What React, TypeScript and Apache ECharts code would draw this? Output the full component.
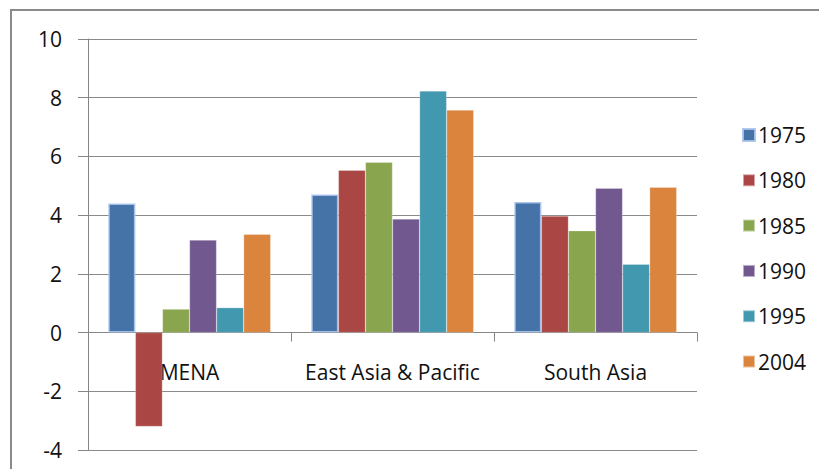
import React, { useEffect, useRef } from "react";
import * as echarts from "echarts";

const categories = ["MENA", "East Asia & Pacific", "South Asia"];
const years = ["1975", "1980", "1985", "1990", "1995", "2004"];
const s1975 = [4.4, 4.7, 4.45];
const s1980 = [-3.2, 5.53, 3.97];
const s1985 = [0.8, 5.8, 3.47];
const s1990 = [3.15, 3.87, 4.92];
const s1995 = [0.85, 8.23, 2.33];
const s2004 = [3.35, 7.58, 4.95];
const seriesValues = [s1975, s1980, s1985, s1990, s1995, s2004];
const colors = ["#4572A7", "#AA4643", "#89A54E", "#71588F", "#4198AF", "#DB843D"];

const FONT = "'Open Sans', 'Liberation Sans', sans-serif";

export default function App() {
  const ref = useRef<HTMLDivElement>(null);
  useEffect(() => {
    if (!ref.current) return;
    const chart = echarts.init(ref.current, undefined, { renderer: "svg" });
    chart.setOption({
      animation: false,
      backgroundColor: "#ffffff",
      color: colors,
      grid: { left: 88, right: 122, top: 39, bottom: 19, containLabel: false, outerBoundsMode: "none" },
      legend: {
        orient: "vertical",
        left: 737,
        top: 119,
        itemWidth: 12,
        itemHeight: 12,
        itemGap: 23.3,
        icon: "rect",
        textStyle: { fontFamily: FONT, fontSize: 21, color: "#111", lineHeight: 22, padding: [0, 0, 0, -2] },
        data: years,
      },
      xAxis: {
        type: "category",
        data: categories,
        boundaryGap: true,
        axisLine: { onZero: true, lineStyle: { color: "#868686", width: 1 } },
        axisTick: { show: true, length: 9, lineStyle: { color: "#868686" } },
        axisLabel: { interval: 0, margin: -89, fontFamily: FONT, fontSize: 21, color: "#111", lineHeight: 22 },
        splitLine: { show: false },
      },
      yAxis: {
        type: "value",
        min: -4,
        max: 10,
        interval: 2,
        axisLine: { show: true, lineStyle: { color: "#868686", width: 1 } },
        axisTick: { show: true, length: 10, lineStyle: { color: "#868686" } },
        axisLabel: { margin: 26, fontFamily: FONT, fontSize: 21, color: "#111" },
        splitLine: { show: true, lineStyle: { color: "#8a8a8a", width: 1 } },
      },
      series: years.map((y, i) => ({
        name: y,
        type: "bar",
        data: seriesValues[i],
        barGap: "0%",
        barCategoryGap: "20%",
        itemStyle:
          i === 0
            ? { color: colors[i], borderColor: "rgba(170,195,235,0.9)", borderWidth: 1.5 }
            : { color: colors[i], borderColor: "rgba(255,255,255,0.5)", borderWidth: 0.5 },
      })),
      graphic: [
        {
          type: "rect",
          shape: { x: 11, y: 10, width: 1000, height: 1000 },
          style: { fill: "none", stroke: "#8a8a8a", lineWidth: 2 },
          silent: true,
        },
      ],
    });
    return () => chart.dispose();
  }, []);
  return (
    <div
      ref={ref}
      style={{ position: "absolute", left: 0, top: 0, width: 819, height: 469 }}
    />
  );
}
